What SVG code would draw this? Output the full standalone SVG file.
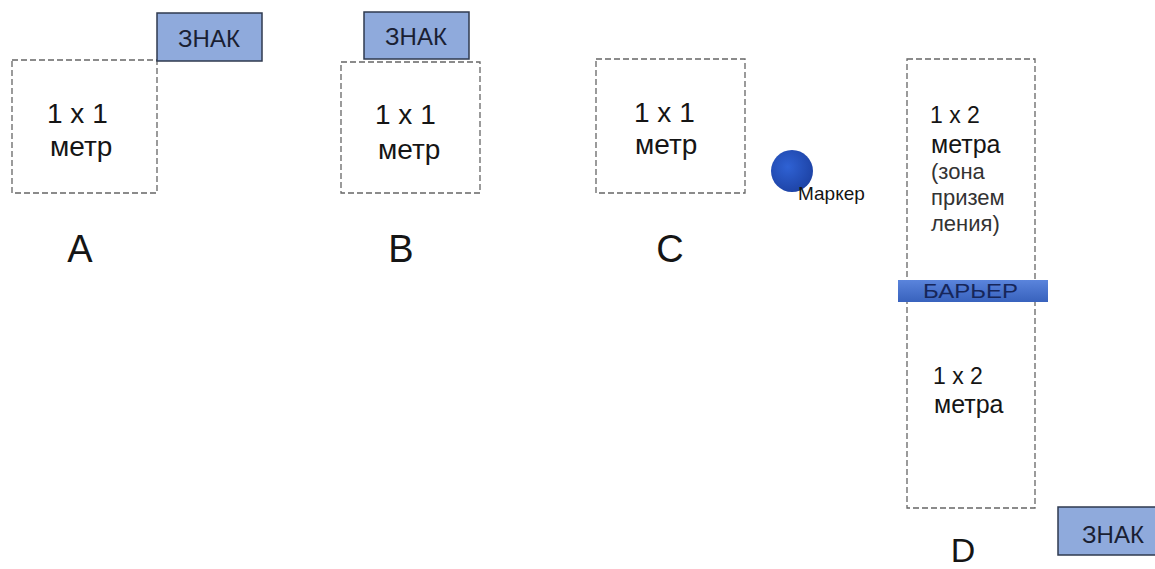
<svg xmlns="http://www.w3.org/2000/svg" width="1155" height="569" viewBox="0 0 1155 569">
<defs>
<style>
text{font-family:"Liberation Sans",Arial,sans-serif;fill:#151515}
.zone{fill:#fff;stroke:#666;stroke-width:1.3;stroke-dasharray:6 3}
.sign{fill:#8faadc;stroke:#2f3a4f;stroke-width:1.5}
.signt{font-size:24px;text-anchor:middle;fill:#1a1f33}
.big{font-size:28px}
.lbl{font-size:38px;text-anchor:middle}
.d1{font-size:23px}
.d2{font-size:25px}
.d3{font-size:22px;fill:#333}
</style>
<linearGradient id="bar" x1="0" y1="0" x2="0" y2="1">
<stop offset="0" stop-color="#5a84dc"/><stop offset="1" stop-color="#3862bd"/>
</linearGradient>
<radialGradient id="dot" cx="0.4" cy="0.4" r="0.65">
<stop offset="0" stop-color="#2f62d4"/><stop offset="1" stop-color="#1d42a4"/>
</radialGradient>
</defs>
<g id="zoneA">
<rect class="zone" x="12" y="60" width="145" height="133"/>
<text class="big" x="47" y="123">1 x 1</text>
<text class="big" x="50" y="156">метр</text>
<text class="lbl" x="80" y="262">A</text>
</g>
<g id="signA">
<rect class="sign" x="157" y="13" width="105" height="48"/>
<text class="signt" x="209" y="47">ЗНАК</text>
</g>
<g id="zoneB">
<rect class="zone" x="341" y="62" width="139" height="131"/>
<text class="big" x="375" y="124">1 x 1</text>
<text class="big" x="378" y="159">метр</text>
<text class="lbl" x="401" y="262">B</text>
</g>
<g id="signB">
<rect class="sign" x="364" y="12" width="105" height="47"/>
<text class="signt" x="416" y="45">ЗНАК</text>
</g>
<g id="zoneC">
<rect class="zone" x="596" y="59" width="149" height="134"/>
<text class="big" x="634" y="122">1 x 1</text>
<text class="big" x="635" y="154">метр</text>
<text class="lbl" x="670" y="262">C</text>
</g>
<g id="marker">
<ellipse cx="792" cy="171" rx="21" ry="21" fill="url(#dot)"/>
<text x="798" y="200" style="font-size:19px">Маркер</text>
</g>
<g id="zoneD">
<rect class="zone" x="907" y="59" width="128" height="449"/>
<text class="d1" x="930" y="123">1 x 2</text>
<text class="d2" x="931" y="153">метра</text>
<text class="d3" x="931" y="179">(зона</text>
<text class="d3" x="931" y="205">призем</text>
<text class="d3" x="931" y="231">ления)</text>
<text class="d1" x="933" y="384">1 x 2</text>
<text class="d2" x="934" y="413">метра</text>
<text class="lbl" x="963" y="562" style="font-size:34px">D</text>
</g>
<g id="barrier">
<rect x="898" y="280" width="150" height="22" fill="url(#bar)"/>
<text x="923" y="298" textLength="95" lengthAdjust="spacingAndGlyphs" style="font-size:21px;fill:#16265a">БАРЬЕР</text>
</g>
<g id="signD">
<rect class="sign" x="1058" y="507" width="105" height="48"/>
<text class="signt" x="1113" y="543">ЗНАК</text>
</g>
<g id="connectors"/>
</svg>
